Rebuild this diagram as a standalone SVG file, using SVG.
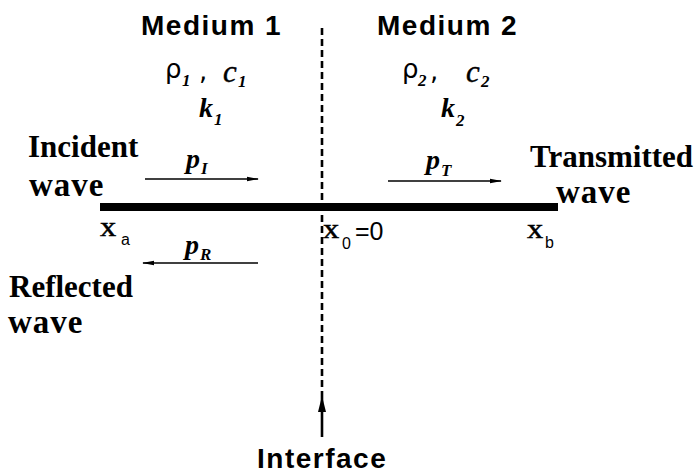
<svg xmlns="http://www.w3.org/2000/svg" width="698" height="475" viewBox="0 0 698 475">
<defs>
<style>
.hs{font-family:"Liberation Sans",Arial,sans-serif;font-weight:bold;font-size:28px;letter-spacing:1.5px;fill:#000}
.ts{font-family:"Liberation Serif","Times New Roman",serif;font-weight:bold;font-size:31px;fill:#000}
.wv{font-family:"Liberation Serif","Times New Roman",serif;font-weight:bold;font-size:33px;letter-spacing:1px;fill:#000}
.var{font-family:"Liberation Serif","Times New Roman",serif;font-style:italic;font-weight:bold;font-size:28px;fill:#000}
.cc{font-family:"Liberation Serif","Times New Roman",serif;font-style:italic;font-size:31px;fill:#000;stroke:#000;stroke-width:0.4}
.rho{font-family:"DejaVu Sans",sans-serif;font-size:26px;fill:#000}
.sub{font-family:"Liberation Serif","Times New Roman",serif;font-style:italic;font-weight:bold;font-size:17px;fill:#000}
.pos{font-family:"Liberation Serif","Times New Roman",serif;font-size:27px;fill:#000;stroke:#000;stroke-width:0.5}
.num{font-family:"Liberation Sans",Arial,sans-serif;font-size:25px;fill:#000}
.psub{font-family:"Liberation Sans",Arial,sans-serif;font-size:16px;fill:#000}
.arr{stroke:#000;stroke-width:1.6;fill:none}
</style>
<marker id="ah" markerWidth="12" markerHeight="8" refX="11" refY="4" orient="auto" markerUnits="userSpaceOnUse">
<path d="M0,1.8 L12,4 L0,6.2 Z" fill="#000"/>
</marker>
<marker id="ahb" markerWidth="16" markerHeight="10" refX="15" refY="5" orient="auto" markerUnits="userSpaceOnUse">
<path d="M0,1 L16,5 L0,9 Z" fill="#000"/>
</marker>
</defs>
<rect width="698" height="475" fill="#fff"/>
<g id="connectors">
<line x1="322" y1="28" x2="322" y2="397" stroke="#000" stroke-width="2.6" stroke-dasharray="7,4"/>
<line x1="322" y1="437" x2="322" y2="397" stroke="#000" stroke-width="2.6" marker-end="url(#ahb)"/>
<line class="arr" x1="145" y1="179" x2="258" y2="179" marker-end="url(#ah)"/>
<line class="arr" x1="388" y1="181" x2="501" y2="181" marker-end="url(#ah)"/>
<line class="arr" x1="258" y1="263" x2="143" y2="263" marker-end="url(#ah)"/>
</g>
<g id="bar"><rect x="100" y="203" width="458" height="8" fill="#000"/></g>
<g id="medium1">
<text class="hs" x="141" y="35">Medium 1</text>
<text class="rho" x="165" y="78">ρ</text><text class="sub" x="182" y="86">1</text>
<text class="rho" x="199" y="80">,</text>
<text class="cc" x="223" y="82">c</text><text class="sub" x="238" y="87">1</text>
<text class="var" x="199" y="117">k</text><text class="sub" x="214" y="125">1</text>
</g>
<g id="medium2">
<text class="hs" x="377" y="35">Medium 2</text>
<text class="rho" x="402" y="78">ρ</text><text class="sub" x="418" y="86">2</text>
<text class="rho" x="430" y="80">,</text>
<text class="cc" x="466" y="82">c</text><text class="sub" x="481" y="87">2</text>
<text class="var" x="441" y="117">k</text><text class="sub" x="456" y="126">2</text>
</g>
<g id="incident">
<text class="ts" x="28" y="157">Incident</text>
<text class="wv" x="29" y="196">wave</text>
<text class="var" x="186" y="168">p</text><text class="sub" x="201" y="174">I</text>
</g>
<g id="transmitted">
<text class="ts" x="530" y="167">Transmitted</text>
<text class="wv" x="556" y="203">wave</text>
<text class="var" x="426" y="169">p</text><text class="sub" x="441" y="176">T</text>
</g>
<g id="reflected">
<text class="ts" x="9" y="297">Reflected</text>
<text class="wv" x="8" y="333">wave</text>
<text class="var" x="185" y="254">p</text><text class="sub" x="200" y="260">R</text>
</g>
<g id="positions">
<text class="pos" transform="translate(100,236) scale(1.2,1)">x</text><text class="psub" x="121" y="245">a</text>
<text class="pos" transform="translate(323,238) scale(1.2,1)">x</text><text class="psub" x="342" y="249">0</text><text class="num" x="355" y="240">=0</text>
<text class="pos" transform="translate(527,238) scale(1.2,1)">x</text><text class="psub" x="545" y="248">b</text>
</g>
<g id="interface">
<text class="hs" x="257" y="468">Interface</text>
</g>
</svg>
